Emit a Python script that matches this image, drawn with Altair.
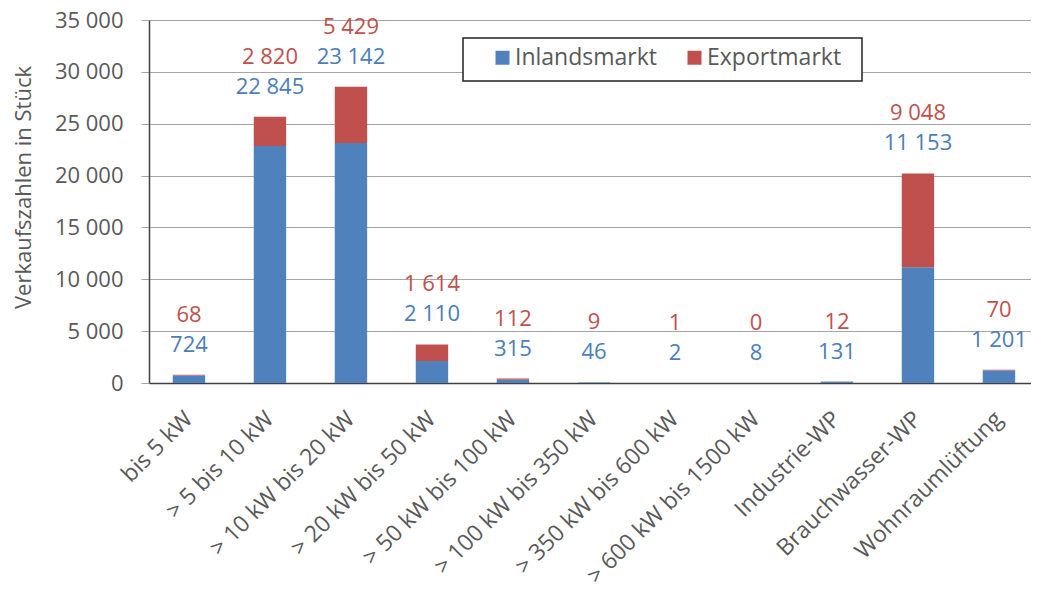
import altair as alt
import pandas as pd

categories = ["bis 5 kW", "> 5 bis 10 kW", "> 10 kW bis 20 kW", "> 20 kW bis 50 kW",
              "> 50 kW bis 100 kW", "> 100 kW bis 350 kW", "> 350 kW bis 600 kW",
              "> 600 kW bis 1500 kW", "Industrie-WP", "Brauchwasser-WP", "Wohnraumlüftung"]
inland = [724, 22845, 23142, 2110, 315, 46, 2, 8, 131, 11153, 1201]
export = [68, 2820, 5429, 1614, 112, 9, 1, 0, 12, 9048, 70]
series = ["Inlandsmarkt", "Exportmarkt"]
colors = ["#4F81BD", "#C0504D"]
y_ticks = [0, 5000, 10000, 15000, 20000, 25000, 30000, 35000]

FONT = "Open Sans"
GREY = "#595959"
FS = 22


def fmt(v):
    return f"{v:,}".replace(",", " ")


rows = []
for c, a, b in zip(categories, inland, export):
    rows.append({"cat": c, "serie": series[0], "wert": a, "ord": 0})
    rows.append({"cat": c, "serie": series[1], "wert": b, "ord": 1})
long_df = pd.DataFrame(rows)

wide_df = pd.DataFrame({
    "cat": categories,
    "total": [a + b for a, b in zip(inland, export)],
    "lab_in": [fmt(v) for v in inland],
    "lab_ex": [fmt(v) for v in export],
})

x_scale = alt.Scale(paddingInner=0.6, paddingOuter=0.2444, align=0.60, round=False)

x_enc = alt.X(
    "cat:N", sort=categories, scale=x_scale,
    axis=alt.Axis(title=None, labelAngle=-45, labelFontSize=23, labelColor=GREY,
                  labelFont=FONT, domainColor="#404040", domainWidth=1.5,
                  ticks=False, labelPadding=32, labelAlign="right",
                  labelBaseline="middle", labelLimit=400, labelOverlap=False),
)

y_scale = alt.Scale(domain=[0, 35000], nice=False)

legend_box = alt.Chart(pd.DataFrame({"k": [0]})).mark_rect(
    fill="white", stroke="#222222", strokeWidth=1.5
).encode(x=alt.value(314), x2=alt.value(713), y=alt.value(18), y2=alt.value(61))

bars = alt.Chart(long_df).mark_bar().encode(
    x=x_enc,
    y=alt.Y("wert:Q", stack="zero", scale=y_scale,
            axis=alt.Axis(title="Verkaufszahlen in Stück", values=y_ticks,
                          labelExpr="replace(format(datum.value, ','), ',', ' ')",
                          labelFontSize=FS, labelFont=FONT, labelColor=GREY,
                          labelPadding=18, tickSize=8, tickColor="#a6a6a6",
                          gridColor="#a6a6a6", gridWidth=1,
                          domainColor="#404040", domainWidth=1.5,
                          titleFont=FONT, titleFontSize=FS, titleColor=GREY,
                          titleFontWeight="normal", titleAngle=-90,
                          titleX=-126, titleY=167, titleAlign="center",
                          titleBaseline="middle")),
    color=alt.Color("serie:N", scale=alt.Scale(domain=series, range=colors),
                    legend=alt.Legend(title=None, orient="none", legendX=342, legendY=26,
                                      direction="horizontal", symbolType="square",
                                      symbolSize=196, symbolStrokeWidth=0,
                                      labelFontSize=23, labelFont=FONT, labelColor=GREY,
                                      labelOffset=1, columnPadding=25,
                                      padding=0, symbolOffset=0)),
    order=alt.Order("ord:Q", sort="ascending"),
)

txt_in = alt.Chart(wide_df).mark_text(
    font=FONT, fontSize=FS, color="#4a7ebb", dy=-30, baseline="middle"
).encode(x=alt.X("cat:N", sort=categories, scale=x_scale),
         y=alt.Y("total:Q", scale=y_scale), text="lab_in:N")

txt_ex = alt.Chart(wide_df).mark_text(
    font=FONT, fontSize=FS, color="#c0504d", dy=-60, baseline="middle"
).encode(x=alt.X("cat:N", sort=categories, scale=x_scale),
         y=alt.Y("total:Q", scale=y_scale), text="lab_ex:N")

chart = alt.layer(legend_box, bars, txt_in, txt_ex).properties(
    width=882, height=363,
    padding={"left": 141, "top": 12, "right": 0, "bottom": 199},
    autosize=alt.AutoSizeParams(type="none"),
    background="white",
).configure_view(stroke=None)

chart.save("out.html", embed_options={"renderer": "svg", "actions": False})
